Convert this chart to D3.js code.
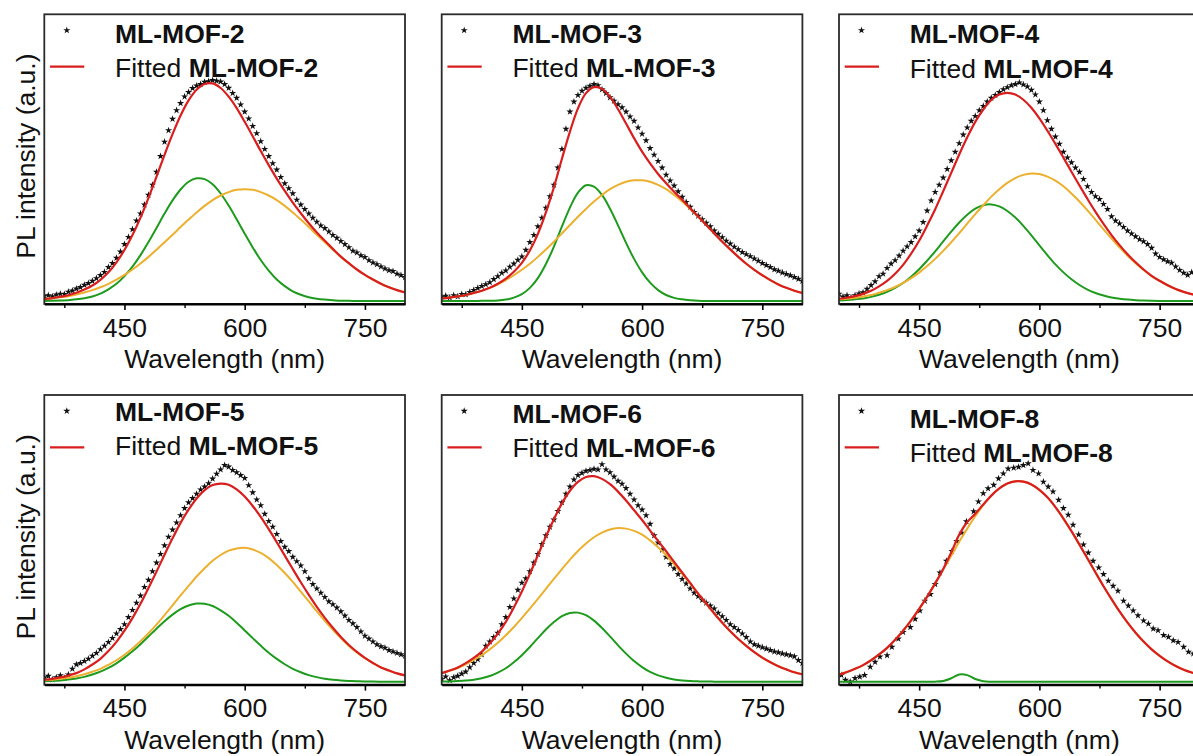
<!DOCTYPE html>
<html><head><meta charset="utf-8">
<script src="https://cdn.jsdelivr.net/npm/d3@7"></script>
<style>
body{margin:0;background:#fff;}
svg{display:block;font-family:"Liberation Sans",Arial,Helvetica,sans-serif;}
</style>
</head><body>
<svg id="chart" width="1193" height="756"></svg>
<script>
// ---------------- data ----------------
const sampleNames = ["ML-MOF-2","ML-MOF-3","ML-MOF-4","ML-MOF-5","ML-MOF-6","ML-MOF-8"];
const xMajorTicks = [450, 600, 750];
const xMinorTicks = [375, 525, 675];
const xTitle = "Wavelength (nm)";
const yTitle = "PL intensity (a.u.)";

// wavelength grid of fitted curves (nm)
const wlFit = [350,360,370,380,390,400,410,420,430,440,450,460,470,480,490,500,510,520,530,540,550,560,570,580,590,600,610,620,630,640,650,660,670,680,690,700,710,720,730,740,750,760,770,780,790,800];
// wavelength grid of measured spectra (nm)
const wlData = [350,355,360,365,370,375,380,385,390,395,400,405,410,415,420,425,430,435,440,445,450,455,460,465,470,475,480,485,490,495,500,505,510,515,520,525,530,535,540,545,550,555,560,565,570,575,580,585,590,595,600,605,610,615,620,625,630,635,640,645,650,655,660,665,670,675,680,685,690,695,700,705,710,715,720,725,730,735,740,745,750,755,760,765,770,775,780,785,790,795,800];
const wlData8 = [353,358,364,370,376,382,389,395,401,410,416,424,430,439,445,451,457,464,470,476,484,491,497,503,509,518,524,530,536,543,549,555,561,568,574,580,586,592,599,605,611,617,624,630,636,642,649,655,661,667,674,680,686,692,698,705,711,717,723,730,736,742,748,755,761,767,773,780,786,792];

// ML-MOF-2
const pl2 = [1.8,2.0,1.6,2.2,2.5,2.4,3.2,3.6,4.3,4.8,5.6,6.2,7.0,7.9,9.0,10.1,11.8,13.2,15.0,17.2,19.8,22.3,25.0,28.0,30.5,33.6,37.0,40.5,45.0,50.5,55.5,59.5,63.5,66.5,69.0,71.3,72.8,74.2,75.1,75.6,76.4,76.6,77.0,76.8,76.5,75.6,74.3,72.5,70.8,68.5,66.0,63.6,61.0,58.5,55.7,53.0,50.5,48.0,45.8,43.2,41.0,39.3,37.5,35.3,33.6,32.0,30.5,29.0,27.6,26.3,25.4,24.2,23.0,22.0,20.9,19.8,18.7,17.5,16.9,15.9,15.3,14.2,13.4,12.8,12.0,11.3,10.7,10.4,9.5,9.0,8.3];
const fit2 = [0.7,1.0,1.5,2.0,2.9,4.0,5.4,7.4,10.0,13.5,17.8,23.0,29.1,36.0,43.4,51.0,58.2,64.7,70.0,73.7,75.7,75.9,74.3,71.3,67.3,62.5,57.5,52.3,47.4,42.7,38.4,34.3,30.6,27.1,23.9,21.0,18.2,15.5,13.2,11.0,9.1,7.5,6.0,4.8,3.8,3.0];
const green2 = [0.0,0.1,0.2,0.3,0.6,1.0,1.6,2.6,4.1,6.0,8.7,12.0,16.0,20.6,25.5,30.5,35.1,38.9,41.6,42.8,42.5,40.7,37.5,33.3,28.5,23.5,18.7,14.3,10.6,7.5,5.2,3.4,2.2,1.3,0.8,0.5,0.3,0.1,0.1,0,0,0,0,0,0,0];
const orange2 = [0.7,0.95,1.3,1.7,2.3,3.0,3.8,4.8,6.0,7.5,9.1,11.0,13.1,15.4,17.9,20.5,23.1,25.8,28.4,30.9,33.2,35.2,36.8,38.0,38.8,39.0,38.8,38.0,36.8,35.2,33.2,30.9,28.4,25.8,23.1,20.5,17.9,15.4,13.1,11.0,9.1,7.5,6.0,4.8,3.8,3.0];

// ML-MOF-3
const pl3 = [1.5,1.8,1.2,2.0,1.6,2.4,2.3,3.1,3.8,4.5,5.2,5.8,6.5,7.6,8.6,9.8,10.6,11.9,13.0,14.3,15.5,17.8,20.5,23.0,26.0,29.0,32.5,36.5,40.5,46.5,53.0,60.0,66.0,69.5,71.8,73.3,74.3,75.0,75.6,75.2,73.8,72.5,71.0,69.8,68.6,67.5,66.0,64.3,62.8,60.5,58.3,56.0,53.3,51.0,48.8,46.5,44.0,42.0,40.2,38.2,36.3,34.5,32.8,31.0,29.7,28.5,27.2,26.0,24.5,23.4,22.2,21.0,20.0,18.9,18.0,17.0,16.3,15.6,14.8,14.0,13.2,12.5,11.8,11.0,10.5,9.9,9.4,8.9,8.3,7.7,7.0];
const fit3 = [0.9,1.2,1.6,2.1,2.8,3.6,4.6,6.0,7.8,10.2,13.3,17.6,23.4,30.9,39.7,49.6,59.1,67.2,72.5,74.6,74.0,71.2,66.9,61.9,56.8,52.1,48.0,44.3,41.1,38.1,35.3,32.4,29.5,26.5,23.6,20.7,18.0,15.4,13.0,10.9,9.0,7.3,5.8,4.6,3.6,2.8];
const green3 = [0,0,0,0,0,0.1,0.1,0.2,0.5,1.2,2.4,4.6,8.0,12.9,19.0,26.0,32.6,37.8,40.4,39.9,37.0,32.2,26.4,20.3,14.7,10.0,6.4,3.8,2.1,1.1,0.6,0.3,0.1,0,0,0,0,0,0,0,0,0,0,0,0,0];
const orange3 = [0.9,1.2,1.6,2.1,2.8,3.6,4.6,5.8,7.3,9.0,10.9,13.0,15.4,18.0,20.7,23.6,26.5,29.4,32.1,34.7,37.0,39.0,40.5,41.6,42.1,42.1,41.6,40.5,39.0,37.0,34.7,32.1,29.4,26.5,23.6,20.7,18.0,15.4,13.0,10.9,9.0,7.3,5.8,4.6,3.6,2.8];

// ML-MOF-4
const pl4 = [2.5,1.5,2.0,1.2,2.0,2.6,3.0,4.2,5.5,6.8,8.6,9.5,11.5,13.0,14.2,15.8,17.5,19.0,20.5,22.5,24.5,27.5,31.5,35.0,38.0,40.5,43.0,46.0,49.0,52.0,55.0,58.0,60.5,62.8,64.5,66.5,68.0,69.5,70.8,71.8,72.8,73.8,74.5,75.2,75.6,76.2,75.5,74.8,73.6,72.0,69.5,66.5,63.0,60.0,57.3,54.8,52.0,50.0,48.3,46.5,45.0,42.5,40.0,38.0,36.5,35.5,33.8,32.0,29.5,28.0,27.0,25.8,24.5,23.5,22.5,21.5,20.8,19.8,18.5,16.5,15.3,14.5,13.8,13.3,12.0,10.8,9.8,9.1,10.0,9.5,9.0];
const fit4 = [0.8,1.15,1.7,2.5,3.55,5.1,7.0,9.5,12.6,16.5,21.0,26.3,32.0,38.3,44.7,51.1,57.1,62.5,66.8,70.1,72.0,72.6,72.0,70.2,67.4,63.7,59.4,54.8,50.0,45.1,40.3,35.6,31.1,26.9,23.0,19.5,16.3,13.5,11.0,8.8,7.05,5.5,4.2,3.2,2.4,1.8];
const green4 = [0.2,0.35,0.6,0.9,1.45,2.2,3.2,4.6,6.3,8.5,11.1,14.1,17.3,20.8,24.2,27.4,30.1,32.2,33.4,33.7,33.0,31.4,29.1,26.2,22.9,19.4,16.0,12.8,10.0,7.6,5.6,4.0,2.8,1.9,1.2,0.8,0.5,0.3,0.17,0.1,0.05,0,0,0,0,0];
const orange4 = [0.6,0.8,1.1,1.6,2.1,2.9,3.8,4.9,6.3,8.0,9.9,12.2,14.7,17.5,20.5,23.7,27.0,30.3,33.4,36.4,39.0,41.2,42.9,44.0,44.5,44.3,43.4,42.0,40.0,37.5,34.7,31.6,28.3,25.0,21.8,18.7,15.8,13.2,10.8,8.7,7.0,5.5,4.2,3.2,2.4,1.8];

// ML-MOF-5
const pl5 = [1.5,2.0,0.8,1.5,2.2,1.3,2.5,4.5,6.0,6.5,7.2,8.0,9.0,10.0,11.3,12.5,13.8,15.2,16.8,18.3,20.0,22.5,25.0,27.5,30.0,33.0,35.5,38.5,41.5,44.5,47.5,50.5,53.0,55.5,58.0,60.5,62.5,64.0,65.5,67.0,68.0,69.2,70.8,72.5,74.0,75.5,75.0,73.8,73.0,72.0,71.0,68.5,66.0,63.5,61.5,58.5,56.0,54.0,51.5,49.0,47.0,45.5,43.5,42.0,40.5,38.5,36.0,34.0,32.5,31.0,29.5,28.0,27.0,25.8,24.5,23.0,21.5,20.3,19.0,17.5,16.0,15.0,14.0,13.0,12.3,11.8,11.0,10.5,10.0,9.5,9.0];
const fit5 = [0.7,1.0,1.5,2.15,3.0,4.3,6.0,8.0,10.7,13.9,17.8,22.2,27.2,32.7,38.4,44.3,50.0,55.4,60.0,63.9,66.8,68.6,69.1,68.7,67.1,64.6,61.3,57.5,53.2,48.65,44.0,39.3,34.7,30.3,26.1,22.25,18.8,15.6,12.8,10.4,8.3,6.55,5.0,3.9,2.9,2.2];
const green5 = [0.18,0.3,0.47,0.75,1.14,1.7,2.5,3.5,4.8,6.4,8.4,10.6,13.1,15.8,18.5,21.1,23.4,25.3,26.6,27.25,27.2,26.4,24.9,23.0,20.6,17.9,15.2,12.6,10.1,7.95,6.1,4.5,3.3,2.3,1.6,1.05,0.68,0.43,0.27,0.16,0.1,0.05,0,0,0,0];
const orange5 = [0.5,0.7,1.0,1.4,1.9,2.6,3.5,4.5,5.9,7.5,9.4,11.6,14.1,16.9,19.9,23.2,26.6,30.1,33.4,36.7,39.6,42.2,44.2,45.7,46.5,46.7,46.1,44.9,43.1,40.7,37.9,34.8,31.4,28.0,24.5,21.2,18.1,15.2,12.5,10.2,8.2,6.5,5.0,3.9,2.9,2.2];

// ML-MOF-6
const pl6 = [1.0,1.8,0.5,1.5,2.0,2.8,3.5,5.0,6.5,7.8,9.5,12.5,14.0,15.5,17.0,20.0,22.5,26.0,29.0,32.0,34.5,36.0,38.5,41.5,44.5,48.0,51.0,54.0,56.5,59.5,62.5,65.5,68.0,70.5,72.0,72.8,73.5,73.8,74.2,74.0,75.8,74.0,73.0,71.5,70.0,69.0,67.5,65.5,63.5,61.5,60.0,58.0,55.0,51.0,48.5,46.0,43.5,41.0,39.5,37.5,35.8,34.2,32.5,31.0,29.8,28.5,27.5,26.5,25.5,24.0,22.8,21.5,20.0,19.0,18.0,16.8,15.5,14.0,13.0,12.5,12.0,11.5,11.0,10.5,10.2,9.8,9.5,9.2,8.8,7.5,6.5];
const fit6 = [3.0,3.9,5.0,6.5,8.3,10.5,13.3,16.8,20.9,25.9,31.45,37.6,44.1,50.6,56.7,62.2,66.6,69.7,71.4,71.7,70.75,68.9,66.3,63.2,59.8,56.4,52.7,49.1,45.5,41.8,38.1,34.45,30.7,27.3,23.8,20.6,17.6,14.9,12.5,10.3,8.4,6.8,5.4,4.3,3.3,2.6];
const green6 = [0.06,0.11,0.22,0.41,0.73,1.24,2.0,3.2,4.7,6.8,9.25,12.1,15.2,18.2,20.8,22.9,24.0,24.1,23.2,21.3,18.75,15.8,12.7,9.8,7.2,5.1,3.4,2.2,1.4,0.8,0.46,0.25,0.13,0.06,0.03,0,0,0,0,0,0,0,0,0,0,0];
const orange6 = [2.9,3.8,4.8,6.1,7.6,9.3,11.3,13.6,16.2,19.1,22.2,25.5,28.9,32.4,35.9,39.3,42.6,45.6,48.2,50.4,52.0,53.1,53.6,53.4,52.6,51.3,49.3,46.9,44.1,41.0,37.6,34.2,30.6,27.2,23.8,20.6,17.6,14.9,12.5,10.3,8.4,6.8,5.4,4.3,3.3,2.6];

// ML-MOF-8
const pl8 = [2.3,0.6,0.0,1.2,1.75,2.3,5.2,6.9,8.7,9.2,12.1,15.0,17.3,19.0,21.9,24.8,28.2,30.5,34.0,38.0,42.1,45.5,49.0,51.9,55.9,59.4,62.8,65.7,67.4,68.6,70.9,72.6,74.3,74.6,74.9,75.5,76.1,73.8,72.6,69.7,68.0,66.3,63.4,60.5,58.2,54.7,51.3,47.8,45.0,42.1,39.8,37.5,35.2,33.4,31.7,28.2,26.5,24.8,23.1,21.3,20.2,18.5,17.9,16.2,15.6,14.4,13.8,12.1,10.4,9.8];
const fit8 = [2.5,3.4,4.5,5.8,7.5,9.5,11.8,14.6,17.8,21.4,25.4,29.7,34.3,39.35,45.1,51.3,55.7,58.6,61.8,64.9,67.4,69.1,69.9,69.8,68.8,66.9,64.3,60.9,56.9,52.5,47.8,43.0,38.1,33.3,28.8,24.5,20.6,17.1,14.0,11.3,9.05,7.1,5.5,4.2,3.2,2.4];
const green8 = [0,0,0,0,0,0,0,0,0,0,0,0,0.02,0.25,1.2,2.5,2.3,0.94,0.17,0.01,0,0,0,0,0,0,0,0,0,0,0,0,0,0,0,0,0,0,0,0,0,0,0,0,0,0];
const orange8 = [2.5,3.4,4.5,5.8,7.5,9.5,11.8,14.6,17.8,21.4,25.4,29.7,34.3,39.1,43.9,48.8,53.4,57.7,61.6,64.9,67.4,69.1,69.9,69.8,68.8,66.9,64.3,60.9,56.9,52.5,47.8,43.0,38.1,33.3,28.8,24.5,20.6,17.1,14.0,11.3,9.05,7.1,5.5,4.2,3.2,2.4];

// ---------------- layout / style ----------------
const COLORS = {data:"#111", fit:"#d81e1e", orange:"#ecb02e", green:"#1e9b1e", frame:"#2b2b2b"};
const colLeft = [44.3, 441.7, 839];
const rowTop = [14.3, 395];
const PW = 360.7, PH = 289.6;
const legendBase = [[29,63],[29,63],[29,63.7],[25.7,60],[28.3,61.7],[33.3,66.7]];

const panels = [
  {pl:pl2, wl:wlData,  fit:fit2, g:green2, o:orange2},
  {pl:pl3, wl:wlData,  fit:fit3, g:green3, o:orange3},
  {pl:pl4, wl:wlData,  fit:fit4, g:green4, o:orange4},
  {pl:pl5, wl:wlData,  fit:fit5, g:green5, o:orange5},
  {pl:pl6, wl:wlData,  fit:fit6, g:green6, o:orange6},
  {pl:pl8, wl:wlData8, fit:fit8, g:green8, o:orange8}
];

const svg = d3.select("#chart");
const FONT = 26.5;
const STAR = 16;

panels.forEach((p, i) => {
  const col = i % 3, row = Math.floor(i / 3);
  const L = colLeft[col], T = rowTop[row];
  const g = svg.append("g").attr("transform", `translate(${L},${T})`);
  const x = d3.scaleLinear().domain([350, 800]).range([0, PW]);
  const y = d3.scaleLinear().domain([-1, 100]).range([PH, 0]);

  const clipId = "clip" + i;
  g.append("clipPath").attr("id", clipId).append("rect")
    .attr("x", 0).attr("y", 0).attr("width", PW).attr("height", PH);
  const plot = g.append("g").attr("clip-path", `url(#${clipId})`);

  // measured data (stars)
  const star = d3.symbol().type(d3.symbolStar).size(STAR);
  plot.selectAll("path.pt").data(p.pl).join("path")
    .attr("class", "pt")
    .attr("d", star)
    .attr("transform", (d, k) => `translate(${x(p.wl[k])},${y(d)})`)
    .attr("fill", COLORS.data);

  const line = d3.line().x((d, k) => x(wlFit[k])).y(d => y(d)).curve(d3.curveCatmullRom.alpha(0.5));
  plot.append("path").datum(p.g).attr("d", line).attr("fill", "none")
    .attr("stroke", COLORS.green).attr("stroke-width", 2);
  plot.append("path").datum(p.o).attr("d", line).attr("fill", "none")
    .attr("stroke", COLORS.orange).attr("stroke-width", 2);
  plot.append("path").datum(p.fit).attr("d", line).attr("fill", "none")
    .attr("stroke", COLORS.fit).attr("stroke-width", 2.2);

  // frame
  g.append("rect").attr("x", 0).attr("y", 0).attr("width", PW).attr("height", PH)
    .attr("fill", "none").attr("stroke", COLORS.frame).attr("stroke-width", 1.8);

  // x axis
  const ax = g.append("g").attr("transform", `translate(0,${PH})`)
    .call(d3.axisBottom(x).tickValues(xMajorTicks).tickSize(6).tickSizeOuter(0));
  ax.select(".domain").attr("stroke", "#000").attr("stroke-width", 2.2);
  ax.selectAll(".tick line").attr("stroke", "#000").attr("stroke-width", 1.6);
  ax.selectAll(".tick text").attr("y", 32.7).attr("dy", null)
    .attr("font-size", FONT).attr("font-family", "Liberation Sans, Arial, sans-serif").attr("fill", "#111");
  const axm = g.append("g").attr("transform", `translate(0,${PH})`)
    .call(d3.axisBottom(x).tickValues(xMinorTicks).tickSize(4).tickFormat(""));
  axm.select(".domain").remove();
  axm.selectAll(".tick line").attr("stroke", "#000").attr("stroke-width", 1.4);

  g.append("text").attr("x", PW / 2).attr("y", PH + 64).attr("text-anchor", "middle")
    .attr("font-size", FONT).attr("fill", "#111").text(xTitle);

  if (col === 0) {
    g.append("text").attr("transform", `translate(${35 - L},${PH / 2 - 3}) rotate(-90)`)
      .attr("text-anchor", "middle").attr("font-size", FONT).attr("fill", "#111").text(yTitle);
  }

  // legend
  const lb = legendBase[i];
  g.append("path").attr("d", d3.symbol().type(d3.symbolStar).size(STAR)())
    .attr("transform", `translate(22.5,16)`).attr("fill", COLORS.data);
  g.append("text").attr("x", 70.7).attr("y", lb[0]).attr("font-size", FONT)
    .attr("font-weight", "bold").attr("fill", "#111").text(sampleNames[i]);
  g.append("line").attr("x1", 5.7).attr("x2", 40).attr("y1", 52.4).attr("y2", 52.4)
    .attr("stroke", COLORS.fit).attr("stroke-width", 2.2);
  const t2 = g.append("text").attr("x", 70.7).attr("y", lb[1]).attr("font-size", FONT).attr("fill", "#111");
  t2.append("tspan").text("Fitted ");
  t2.append("tspan").attr("font-weight", "bold").text(sampleNames[i]);
});
</script>
</body></html>
